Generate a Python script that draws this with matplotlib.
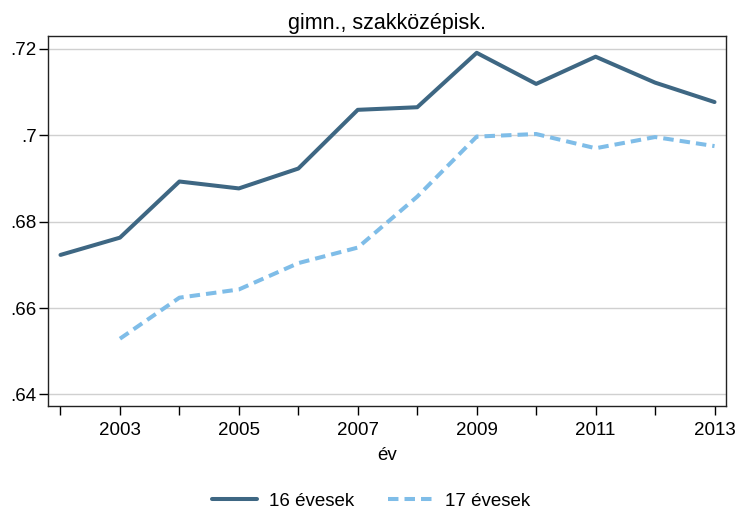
import numpy as np
import matplotlib.pyplot as plt

plt.rcParams['font.family'] = ['Liberation Sans', 'DejaVu Sans']

years = [2002, 2003, 2004, 2005, 2006, 2007, 2008, 2009, 2010, 2011, 2012, 2013]
ev16 = [.6723, .6763, .6893, .6877, .6923, .7059, .7065, .7191, .7119, .7182, .7122, .7077]
years17 = [2003, 2004, 2005, 2006, 2007, 2008, 2009, 2010, 2011, 2012, 2013]
ev17 = [.6529, .6624, .6643, .6704, .6740, .6858, .6997, .7003, .6970, .6996, .6975]
yticks = [.64, .66, .68, .70, .72]
ylabels = ['.64', '.66', '.68', '.7', '.72']

fig = plt.figure(figsize=(7.42, 5.14), dpi=100)
ax = fig.add_axes([0.0647, 0.210, 0.9143, 0.720])

ax.plot(years, ev16, color='#3e6783', lw=2.9, solid_capstyle='round',
        solid_joinstyle='round', label='16 évesek')
ax.plot(years17, ev17, color='#7fbde8', lw=2.9, dashes=(2.6, 1.5),
        label='17 évesek')

ax.set_xlim(2001.79, 2013.2)
ax.set_ylim(.6373, .7230)
ax.set_yticks(yticks)
ax.set_yticklabels(ylabels)
ax.set_xticks(years)
ax.set_xticklabels([str(y) if y % 2 == 1 else '' for y in years])
ax.yaxis.grid(True, color='#d0d0d0', lw=1)
ax.set_axisbelow(True)
ax.tick_params(direction='out', length=6.2, width=1, labelsize=13.5, colors='black')
ax.tick_params(axis='x', pad=5)
ax.tick_params(axis='y', pad=2)
for s in ax.spines.values():
    s.set_color('#222222')
    s.set_linewidth(1)

ax.set_title('gimn., szakközépisk.', fontsize=15.5, pad=5)
ax.set_xlabel('év', fontsize=13.5, labelpad=6)

fig.legend(loc='center', bbox_to_anchor=(0.5, 0.025), ncol=2, frameon=False,
           fontsize=13.5, handlelength=2.4, columnspacing=1.8, handletextpad=0.65)

fig.savefig('out.png', dpi=100)
